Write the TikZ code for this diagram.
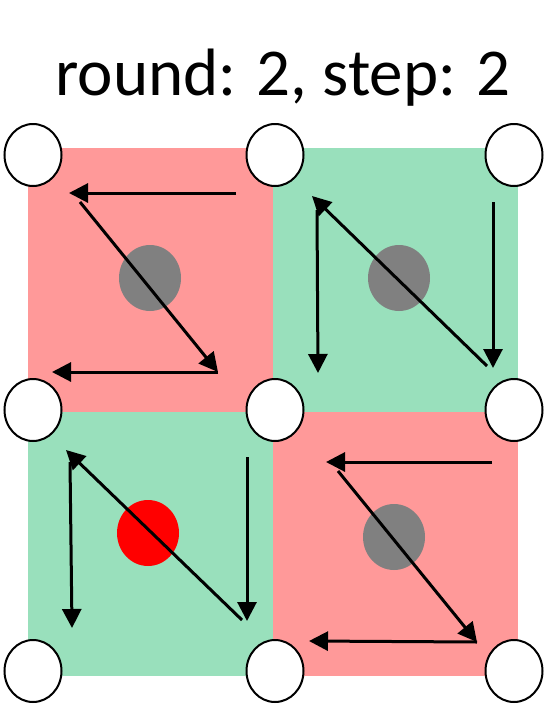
\documentclass[tikz,border=0pt]{standalone}
\usepackage{fontspec}
\setmainfont{Carlito}
\usepackage{xcolor}
\usepackage{tikz}
\usetikzlibrary{arrows.meta, shapes.geometric}
\definecolor{cellred}{RGB}{255, 153, 153}
\definecolor{cellgreen}{RGB}{153, 224, 188}
\definecolor{dotgray}{RGB}{128, 128, 128}

\begin{document}
\begin{tikzpicture}[
  x=1pt, y=-1pt,
  cell/.style={rectangle, inner sep=0pt, minimum width=245pt, minimum height=264pt},
  dot/.style={ellipse, inner sep=0pt, minimum width=62pt, minimum height=66pt},
  corner/.style={ellipse, draw, line width=2pt, fill=white, inner sep=0pt,
                 minimum width=57pt, minimum height=62pt},
  arr/.style={-{Triangle[length=19pt, width=19pt]}, line width=3pt}
]
  \useasboundingbox (0,0) rectangle (557,705);

  \node[font=\fontsize{67}{80}\selectfont, anchor=base] (title) at (283,95)
    {round: 2, step: 2};

  % cells
  \node[cell, fill=cellred]   (tl) at (150.5,280) {};
  \node[cell, fill=cellgreen] (tr) at (395.5,280) {};
  \node[cell, fill=cellgreen] (bl) at (150.5,543.5) {};
  \node[cell, fill=cellred]   (br) at (395.5,543.5) {};

  \node[dot, fill=dotgray] (dtl) at (150,278) {};
  \node[dot, fill=dotgray] (dtr) at (399,278) {};
  \node[dot, fill=red]     (dbl) at (148,533) {};
  \node[dot, fill=dotgray] (dbr) at (394,537) {};

  % scan points
  \foreach \n/\x/\y in {p1/236/193, p2/69/193, p3/80/202, p4/218/372, p5/52/372,
                        q1/493/202, q2/493/368, q3/487/366, q4/312/196, q5/317/210, q6/318/373,
                        r1/247/457, r2/247/621, r3/242/620, r4/66/450, r5/70/462, r6/72/628,
                        s1/492/462, s2/326/462, s3/338/471, s4/477/642, s5/309/641}
    \coordinate (\n) at (\x,\y);

  \draw[arr] (p1) -- (p2);
  \draw[arr] (p3) -- (p4);
  \draw[arr] (p4) -- (p5);

  \draw[arr] (q1) -- (q2);
  \draw[arr] (q3) -- (q4);
  \draw[arr] (q5) -- (q6);

  \draw[arr] (r1) -- (r2);
  \draw[arr] (r3) -- (r4);
  \draw[arr] (r5) -- (r6);

  \draw[arr] (s1) -- (s2);
  \draw[arr] (s3) -- (s4);
  \draw[arr] (s4) -- (s5);

  % corners
  \foreach \i/\x in {1/33, 2/275, 3/514}
    \foreach \j/\y in {1/155, 2/410, 3/671}
      \node[corner] (c\i\j) at (\x,\y) {};

\end{tikzpicture}
\end{document}
